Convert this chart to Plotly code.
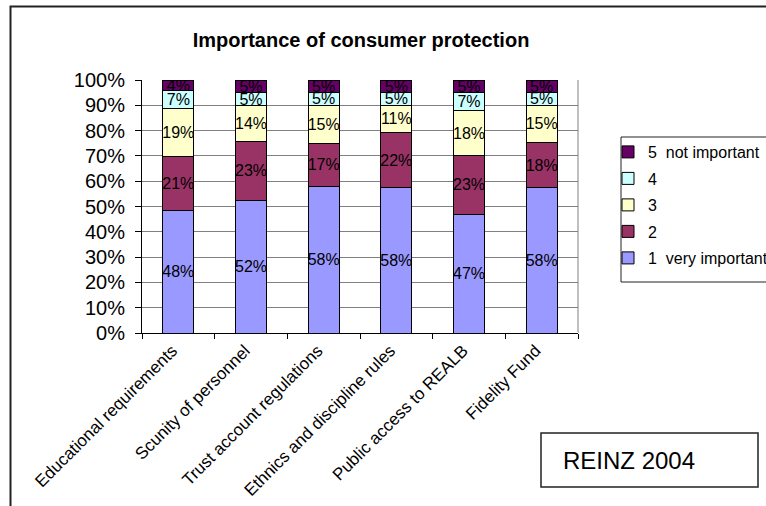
import plotly.graph_objects as go

categories = ["Educational requirements", "Scunity of personnel", "Trust account regulations",
              "Ethnics and discipline rules", "Public access to REALB", "Fidelity Fund"]
s1_very_important = [48, 52, 58, 58, 47, 58]
s2 = [21, 23, 17, 22, 23, 18]
s3 = [19, 14, 15, 11, 18, 15]
s4 = [7, 5, 5, 5, 7, 5]
s5_not_important = [4, 5, 5, 5, 5, 5]

series = [
    ("1  very important", s1_very_important, "#9999FF"),
    ("2", s2, "#993366"),
    ("3", s3, "#FFFFCC"),
    ("4", s4, "#CCFFFF"),
    ("5  not important", s5_not_important, "#660066"),
]

FONT = "Arial, Liberation Sans, sans-serif"
W, H = 766, 506
L, R, T, B = 142, 188, 80, 173
pw, ph = W - L - R, H - T - B

def px(x):
    return (x - L) / pw

def py(y):
    return (H - B - y) / ph

fig = go.Figure()
n = len(series)
for i, (name, vals, color) in enumerate(series):
    fig.add_trace(go.Bar(
        x=categories, y=vals, name=name, legendgroup=name,
        legendrank=1000 + (n - i),
        marker=dict(color=color, line=dict(color="black", width=1)),
        text=[f"{v}%" for v in vals],
        textposition="inside", insidetextanchor="middle",
        textangle=0, constraintext="none",
        textfont=dict(family=FONT, size=16, color="black"),
        hoverinfo="skip",
    ))

fig.update_layout(
    width=W, height=H,
    margin=dict(l=L, r=R, t=T, b=B, autoexpand=False),
    barmode="stack", barnorm="percent", bargap=0.57,
    paper_bgcolor="white", plot_bgcolor="white",
    font=dict(family=FONT, color="black"),
    title=dict(text="<b>Importance of consumer protection</b>",
               x=px(361), xref="paper", xanchor="center",
               y=1 - 40 / H, yanchor="middle",
               font=dict(family=FONT, size=20, color="black")),
    showlegend=True,
    legend=dict(x=px(608), y=py(135), xanchor="left", yanchor="top",
                traceorder="grouped", borderwidth=0,
                bgcolor="rgba(0,0,0,0)", font=dict(family=FONT, size=16, color="black"),
                tracegroupgap=2.7),
)

fig.update_xaxes(
    type="category", tickangle=-45, tickson="boundaries",
    ticks="outside", ticklen=5, tickcolor="black",
    showline=True, linecolor="black", linewidth=1,
    showgrid=False, automargin=False,
    tickfont=dict(family=FONT, size=17, color="black"),
    ticklabelshift=-6,
)
fig.update_yaxes(
    range=[0, 100], dtick=10, ticksuffix="%",
    ticks="outside", ticklen=6, tickcolor="black",
    showline=True, linecolor="black", linewidth=1,
    showgrid=True, gridcolor="#808080", gridwidth=1, automargin=False,
    tickfont=dict(family=FONT, size=20, color="black"),
    ticklabelstandoff=6,
)

shapes = [
    # right border of plot area
    dict(type="line", xref="paper", yref="paper", x0=1, x1=1, y0=0, y1=1,
         line=dict(color="#808080", width=1), layer="below"),
    # outer chart frame
    dict(type="rect", xref="paper", yref="paper",
         x0=px(10.5), x1=px(780), y0=py(520), y1=py(6.5),
         line=dict(color="#222222", width=2)),
    # legend box
    dict(type="rect", xref="paper", yref="paper",
         x0=px(621), x1=px(790), y0=py(282), y1=py(137),
         line=dict(color="#222222", width=1), fillcolor="white", layer="below"),
    # REINZ box
    dict(type="rect", xref="paper", yref="paper",
         x0=px(541), x1=px(758), y0=py(487), y1=py(433),
         line=dict(color="#222222", width=1.5), fillcolor="white"),
]
fig.update_layout(shapes=shapes)
fig.add_annotation(text="REINZ 2004", xref="paper", yref="paper",
                   x=px(561), y=py(460), xanchor="left", yanchor="middle",
                   showarrow=False, font=dict(family=FONT, size=24, color="black"))

fig.write_html("out.html", config={"displayModeBar": False},
               post_script="document.body.style.margin='0';document.body.style.overflow='hidden';")
